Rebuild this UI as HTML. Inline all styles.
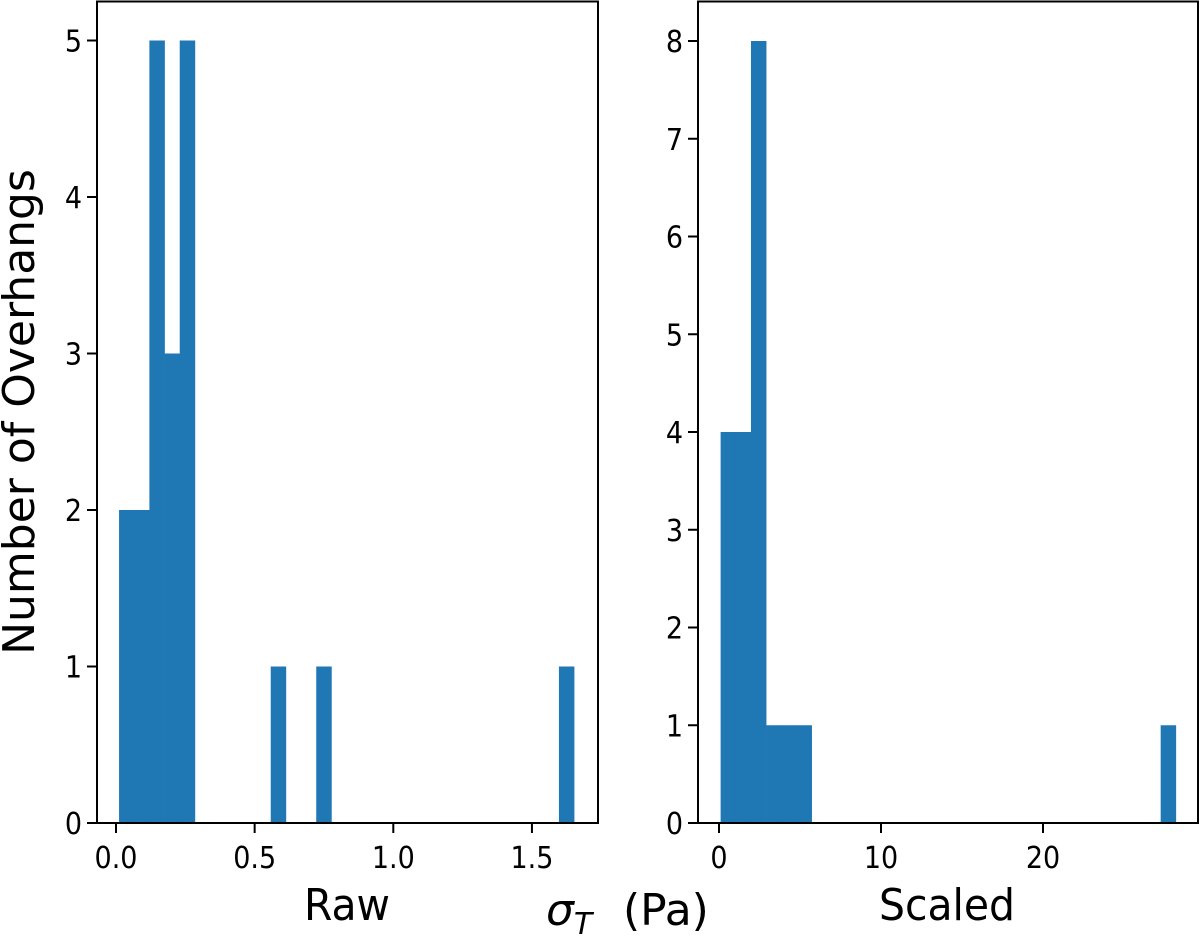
<!DOCTYPE html>
<html><head><meta charset="utf-8"><style>
body{margin:0;background:#fff;}
svg text{font-family:"DejaVu Sans","Liberation Sans",sans-serif;fill:#000;}
</style></head><body>
<svg id="c" width="1200" height="936" viewBox="0 0 1200 936" xmlns="http://www.w3.org/2000/svg">
<text font-size="44" text-anchor="middle" transform="translate(34 412) rotate(-90) scale(1.0 1)">Number of Overhangs</text>
<text font-size="44" text-anchor="middle" transform="translate(347 920) scale(0.93 1)">Raw</text>
<text font-size="44" text-anchor="middle" transform="translate(947 920) scale(0.93 1)">Scaled</text>
<text font-size="44" transform="translate(546 925)"><tspan font-style="italic">σ</tspan><tspan font-style="italic" font-size="30" dy="9">T</tspan><tspan dy="-9" x="77">(Pa)</tspan></text>
</svg>
<script>
const rawCounts=[2,2,5,3,5,0,0,0,0,0,1,0,0,1,0,0,0,0,0,0,0,0,0,0,0,0,0,0,0,1];
const rawMin=0.011, rawMax=1.652;
const rawXTicks=[0.0,0.5,1.0,1.5];
const rawXTickLabels=["0.0","0.5","1.0","1.5"];
const rawYTicks=[0,1,2,3,4,5];
const scaledCounts=[4,4,8,1,1,1,0,0,0,0,0,0,0,0,0,0,0,0,0,0,0,0,0,0,0,0,0,0,0,1];
const scaledMin=0.1, scaledMax=28.2;
const scaledXTicks=[0,10,20];
const scaledXTickLabels=["0","10","20"];
const scaledYTicks=[0,1,2,3,4,5,6,7,8];
const svg=document.getElementById('c');
const NS="http://www.w3.org/2000/svg";
function mk(t,a){const e=document.createElementNS(NS,t);for(const k in a)e.setAttribute(k,a[k]);svg.appendChild(e);return e;}
function panel(p){
  const x=v=>p.x0+(v-p.vx0)*p.kx;
  const y=v=>p.yb-v*p.ky;
  const w=(p.max-p.min)/p.counts.length;
  p.counts.forEach((c,i)=>{
    if(!c)return;
    const r=mk('rect',{x:x(p.min+i*w),y:y(c),width:x(p.min+(i+1)*w)-x(p.min+i*w)+0.3,height:c*p.ky,fill:'#1f77b4'});
    
    
  });
  const f=mk('rect',{x:p.L,y:1.5,width:p.R-p.L,height:p.yb-1.5,fill:'none',stroke:'#000','stroke-width':2});
  
  
  p.xt.forEach((v,i)=>{
    mk('line',{x1:x(v),x2:x(v),y1:p.yb,y2:p.yb+10,stroke:'#000','stroke-width':2});
    const t=mk('text',{transform:'translate('+x(v)+' '+(p.yb+45)+') scale(0.9 1)','font-size':30,'text-anchor':'middle'});
    t.textContent=p.xl[i];
    
    
  });
  p.yt.forEach(v=>{
    mk('line',{x1:p.L-10,x2:p.L,y1:y(v),y2:y(v),stroke:'#000','stroke-width':2});
    const t=mk('text',{transform:'translate('+(p.L-15)+' '+(y(v)+11)+') scale(0.9 1)','font-size':30,'text-anchor':'end'});
    t.textContent=String(v);
    
    
  });
}
panel({name:'raw',L:97,R:598,x0:116,vx0:0,kx:277.3,yb:823,ky:156.5,counts:rawCounts,min:rawMin,max:rawMax,xt:rawXTicks,xl:rawXTickLabels,yt:rawYTicks});
panel({name:'scaled',L:698,R:1198,x0:719,vx0:0,kx:16.2,yb:823,ky:97.75,counts:scaledCounts,min:scaledMin,max:scaledMax,xt:scaledXTicks,xl:scaledXTickLabels,yt:scaledYTicks});
</script>
</body></html>
